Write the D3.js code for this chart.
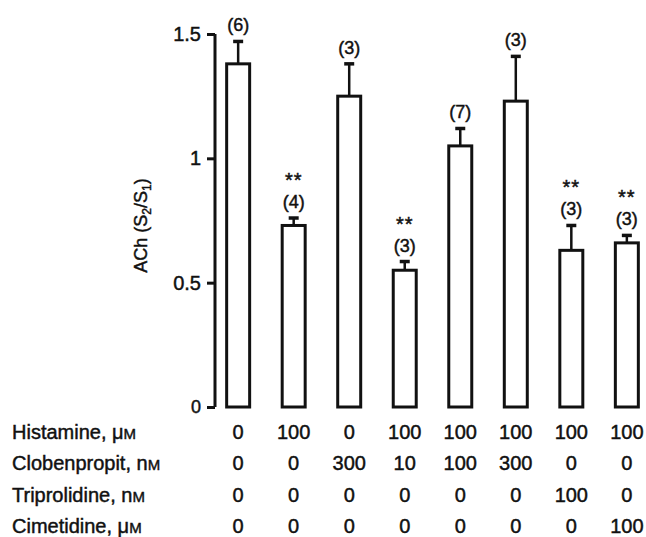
<!DOCTYPE html>
<html>
<head>
<meta charset="utf-8">
<script src="https://cdn.jsdelivr.net/npm/d3@7"></script>
<style>
body { margin: 0; background: #fff; }
text { font-family: "Liberation Sans", Arial, sans-serif; fill: #111; stroke: #111; stroke-width: 0.45px; }
</style>
</head>
<body>
<script>
var width = 646, height = 537;

// bar values, errors, n and significance
var values = [1.38, 0.73, 1.25, 0.55, 1.05, 1.23, 0.63, 0.66];
var errors = [0.09, 0.03, 0.13, 0.035, 0.07, 0.18, 0.10, 0.03];
var counts = [6, 4, 3, 3, 7, 3, 3, 3];
var signif = ["", "**", "", "**", "", "", "**", "**"];

// treatment table
var rowLabels = [["Histamine, ", "\u03bc", "M"], ["Clobenpropit, ", "n", "M"], ["Triprolidine, ", "n", "M"], ["Cimetidine, ", "\u03bc", "M"]];
var histamine = [0, 100, 0, 100, 100, 100, 100, 100];
var clobenpropit = [0, 0, 300, 10, 100, 300, 0, 0];
var triprolidine = [0, 0, 0, 0, 0, 0, 100, 0];
var cimetidine = [0, 0, 0, 0, 0, 0, 0, 100];
var yTicks = [0, 0.5, 1, 1.5];

var svg = d3.select("body").append("svg")
    .attr("width", width).attr("height", height);

var x = d3.scaleBand().domain(d3.range(values.length))
    .range([210, 655]).paddingInner(0.586).paddingOuter(0.3);
var y = d3.scaleLinear().domain([0, 1.5]).range([407, 34]);

// y axis
var axis = svg.append("g").attr("transform", "translate(215,0)")
    .call(d3.axisLeft(y).tickValues(yTicks).tickSize(8).tickPadding(6)
        .tickFormat(function(d){ return d === 0 ? "0" : String(d); }));
axis.select(".domain").attr("d", "M0," + y(1.5) + "V" + y(0)).attr("stroke", "#111").attr("stroke-width", 3);
axis.selectAll(".tick line").attr("stroke", "#111").attr("stroke-width", 3);
axis.selectAll(".tick text").attr("font-size", 20).attr("fill", "#111")
    .attr("font-family", "Liberation Sans, Arial, sans-serif");
axis.selectAll(".tick text").filter(function(d){ return d === 0; }).attr("font-size", 18);

svg.append("text")
    .attr("transform", "translate(147," + y(0.73) + ") rotate(-90)")
    .attr("text-anchor", "middle").attr("font-size", 18)
    .call(function(t){
        t.append("tspan").text("ACh (S");
        t.append("tspan").attr("font-size", 12).attr("dy", 4).text("2");
        t.append("tspan").attr("dy", -4).text("/S");
        t.append("tspan").attr("font-size", 12).attr("dy", 4).text("1");
        t.append("tspan").attr("dy", -4).text(")");
    });

var bars = svg.append("g").selectAll("g").data(values).enter().append("g");

// error bars
bars.append("line")
    .attr("x1", function(d, i){ return x(i) + x.bandwidth() / 2; })
    .attr("x2", function(d, i){ return x(i) + x.bandwidth() / 2; })
    .attr("y1", function(d){ return y(d); })
    .attr("y2", function(d, i){ return y(d + errors[i]); })
    .attr("stroke", "#111").attr("stroke-width", 2.5);
bars.append("line")
    .attr("x1", function(d, i){ return x(i) + x.bandwidth() / 2 - 5; })
    .attr("x2", function(d, i){ return x(i) + x.bandwidth() / 2 + 5; })
    .attr("y1", function(d, i){ return y(d + errors[i]); })
    .attr("y2", function(d, i){ return y(d + errors[i]); })
    .attr("stroke", "#111").attr("stroke-width", 3.5);

bars.append("rect")
    .attr("x", function(d, i){ return x(i); })
    .attr("y", function(d){ return y(d); })
    .attr("width", x.bandwidth())
    .attr("height", function(d){ return y(0) - y(d); })
    .attr("fill", "#fff").attr("stroke", "#111").attr("stroke-width", 3);

bars.append("text")
    .attr("x", function(d, i){ return x(i) + x.bandwidth() / 2; })
    .attr("y", function(d, i){ return y(d + errors[i]) - 10; })
    .attr("text-anchor", "middle").attr("font-size", 18)
    .text(function(d, i){ return "(" + counts[i] + ")"; });
bars.append("text")
    .attr("x", function(d, i){ return x(i) + x.bandwidth() / 2; })
    .attr("y", function(d, i){ return y(d + errors[i]) - 31; })
    .attr("text-anchor", "middle").attr("font-size", 20).attr("letter-spacing", 1)
    .text(function(d, i){ return signif[i]; });

// treatment table
var rows = [histamine, clobenpropit, triprolidine, cimetidine];
var rowY = [439, 470, 502, 533];
rows.forEach(function(row, r){
    var lab = svg.append("text").attr("x", 12).attr("y", rowY[r]).attr("font-size", 20);
    lab.append("tspan").text(rowLabels[r][0]);
    lab.append("tspan").text(rowLabels[r][1]);
    lab.append("tspan").attr("font-size", 15).text(rowLabels[r][2]);
    svg.append("g").selectAll("text").data(row).enter().append("text")
        .attr("x", function(d, i){ return x(i) + x.bandwidth() / 2; })
        .attr("y", rowY[r])
        .attr("text-anchor", "middle").attr("font-size", 20)
        .text(function(d){ return d; });
});
</script>
</body>
</html>
